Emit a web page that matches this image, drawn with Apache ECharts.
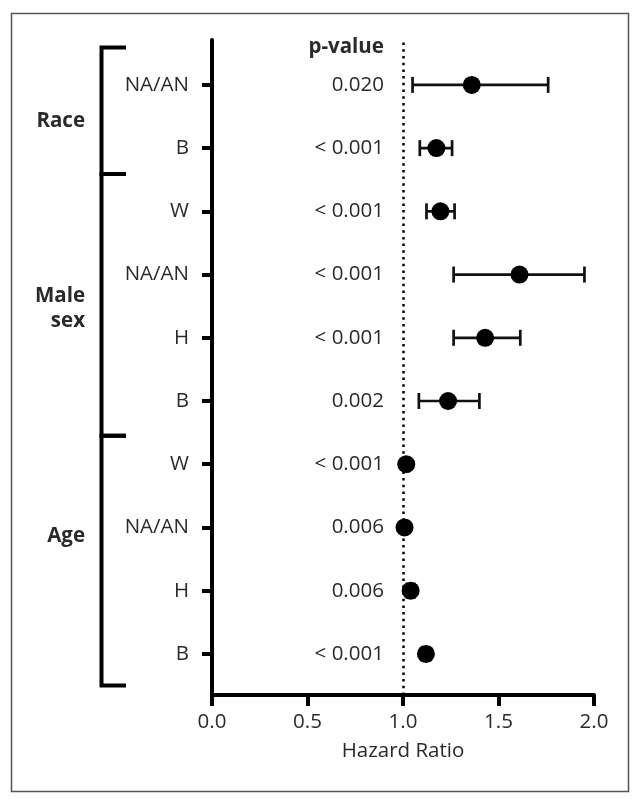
<!DOCTYPE html>
<html>
<head>
<meta charset="utf-8">
<script src="https://cdn.jsdelivr.net/npm/echarts@6/dist/echarts.min.js"></script>
<style>
html,body{margin:0;padding:0;background:#fff;}
#chart{width:642px;height:806px;}
</style>
</head>
<body>
<div id="chart"></div>
<script>
// Rows listed top to bottom
const rowLabels = ['NA/AN','B','W','NA/AN','H','B','W','NA/AN','H','B'];
const hazardRatio = [1.36, 1.175, 1.196, 1.61, 1.43, 1.236, 1.017, 1.008, 1.04, 1.12];
const ciLower = [1.05, 1.088, 1.123, 1.265, 1.265, 1.083, 1.005, 0.995, 1.02, 1.10];
const ciUpper = [1.76, 1.257, 1.27, 1.95, 1.614, 1.40, 1.03, 1.02, 1.06, 1.14];
const pValues = ['0.020','< 0.001','< 0.001','< 0.001','< 0.001','0.002','< 0.001','0.006','0.006','< 0.001'];
const pHeader = 'p-value';
const groupNames = ['Race', 'Male\nsex', 'Age'];
const groupTop = [10.59, 8.59, 4.45];
const groupBottom = [8.59, 4.45, 0.5];
const groupLabelY = [9.43, 6.46, 2.87];
const referenceHR = 1;
const xAxisName = 'Hazard Ratio';

const n = rowLabels.length;
const rowPos = rowLabels.map((_, i) => n - i); // top row = n
const labelByPos = {};
rowPos.forEach((p, i) => { labelByPos[p] = rowLabels[i]; });

const FONT = '"Open Sans", "Noto Sans", sans-serif';
const FS = 20.5;
const TXT = '#2a2a2a';

const chart = echarts.init(document.getElementById('chart'));

const option = {
  animation: false,
  backgroundColor: '#fff',
  graphic: [{
    type: 'rect',
    shape: { x: 11.5, y: 13.5, width: 617, height: 778 },
    style: { fill: 'none', stroke: '#555', lineWidth: 1.5 },
    silent: true
  }],
  grid: { left: 212, top: 40, width: 382, height: 655, containLabel: false },
  xAxis: {
    type: 'value', min: 0, max: 2, interval: 0.5,
    name: xAxisName, nameLocation: 'middle', nameGap: 46,
    nameTextStyle: { fontFamily: FONT, fontSize: FS, color: TXT },
    axisLine: { show: true, lineStyle: { color: '#000', width: 4 } },
    axisTick: { show: true, length: 11, lineStyle: { color: '#000', width: 4 } },
    axisLabel: { fontFamily: FONT, fontSize: FS, color: TXT, margin: 17,
      formatter: v => v.toFixed(1) },
    splitLine: { show: false }
  },
  yAxis: {
    type: 'value', min: 0.35, max: 10.71,
    axisLine: { show: true, lineStyle: { color: '#000', width: 4 } },
    axisTick: { show: true, length: 10, customValues: rowPos, lineStyle: { color: '#000', width: 4 } },
    axisLabel: { show: true, customValues: rowPos, fontFamily: FONT, fontSize: FS, color: TXT, margin: 23,
      formatter: v => labelByPos[Math.round(v)] || '' },
    splitLine: { show: false }
  },
  series: [
    {
      type: 'custom',
      name: 'ci',
      clip: false,
      z: 5,
      encode: { x: [0, 1], y: 2 },
      data: rowPos.map((p, i) => [ciLower[i], ciUpper[i], p]),
      renderItem: function (params, api) {
        const y = api.value(2);
        const a = api.coord([api.value(0), y]);
        const b = api.coord([api.value(1), y]);
        const h = 8;
        const st = { stroke: '#111', lineWidth: 2.7, fill: 'none' };
        return {
          type: 'group',
          children: [
            { type: 'line', shape: { x1: a[0], y1: a[1], x2: b[0], y2: b[1] }, style: st },
            { type: 'line', shape: { x1: a[0], y1: a[1] - h, x2: a[0], y2: a[1] + h }, style: st },
            { type: 'line', shape: { x1: b[0], y1: b[1] - h, x2: b[0], y2: b[1] + h }, style: st }
          ]
        };
      }
    },
    {
      type: 'scatter',
      name: 'HR',
      z: 6,
      symbol: 'circle',
      symbolSize: 18,
      itemStyle: { color: '#000', opacity: 1 },
      data: rowPos.map((p, i) => [hazardRatio[i], p]),
      markLine: {
        silent: true,
        symbol: ['none', 'none'],
        label: { show: false },
        lineStyle: { color: '#000', width: 2.5, type: [2.5, 4.2] },
        data: [{ xAxis: referenceHR }],
        z: 2
      }
    },
    {
      type: 'custom',
      name: 'pvalues',
      clip: false,
      z: 4,
      encode: { x: 0, y: 1 },
      data: rowPos.map((p, i) => [0.9, p, i]).concat([[0.9, 10.6, -1]]),
      renderItem: function (params, api) {
        const idx = api.value(2);
        const c = api.coord([api.value(0), api.value(1)]);
        const header = idx < 0;
        return {
          type: 'text',
          style: {
            x: c[0], y: c[1],
            text: header ? pHeader : pValues[idx],
            align: 'right', verticalAlign: 'middle',
            font: (header ? 'bold ' : '') + FS + 'px ' + FONT,
            fill: TXT
          }
        };
      }
    },
    {
      type: 'custom',
      name: 'groups',
      clip: false,
      z: 4,
      encode: { y: [0, 1] },
      data: groupNames.map((g, i) => [groupTop[i], groupBottom[i], groupLabelY[i], i]),
      renderItem: function (params, api) {
        const top = api.coord([0, api.value(0)]);
        const bot = api.coord([0, api.value(1)]);
        const lab = api.coord([0, api.value(2)]);
        const x0 = top[0];
        const xv = x0 - 110.5;
        const xh = x0 - 86;
        return {
          type: 'group',
          children: [
            { type: 'polyline',
              shape: { points: [[xh, top[1]], [xv, top[1]], [xv, bot[1]], [xh, bot[1]]] },
              style: { stroke: '#000', lineWidth: 4, fill: 'none', lineJoin: 'miter' } },
            { type: 'text',
              style: { x: x0 - 127, y: lab[1], text: groupNames[api.value(3)],
                align: 'right', verticalAlign: 'middle', lineHeight: 25,
                font: 'bold ' + FS + 'px ' + FONT, fill: TXT } }
          ]
        };
      }
    }
  ]
};
chart.setOption(option);
</script>
</body>
</html>
